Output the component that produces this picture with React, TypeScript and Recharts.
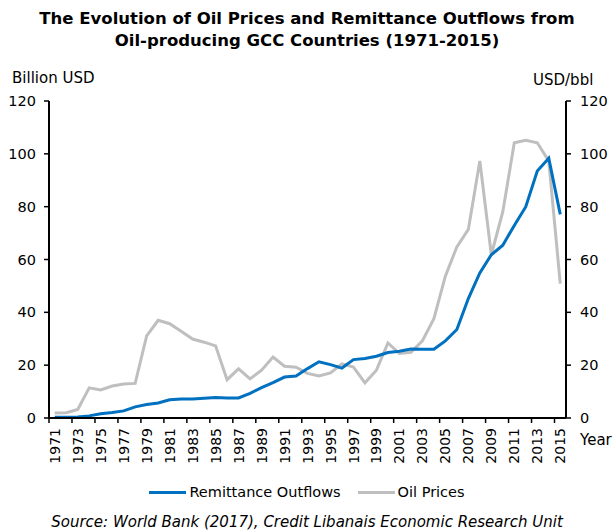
import { LineChart, Line, XAxis, YAxis } from "recharts";

const years = [
  1971, 1972, 1973, 1974, 1975, 1976, 1977, 1978, 1979, 1980,
  1981, 1982, 1983, 1984, 1985, 1986, 1987, 1988, 1989, 1990,
  1991, 1992, 1993, 1994, 1995, 1996, 1997, 1998, 1999, 2000,
  2001, 2002, 2003, 2004, 2005, 2006, 2007, 2008, 2009, 2010,
  2011, 2012, 2013, 2014, 2015,
];

// Billion USD
const remittanceOutflows = [
  0.3, 0.3, 0.4, 0.8, 1.6, 2.1, 2.7, 4.2, 5.1, 5.7,
  6.9, 7.2, 7.2, 7.5, 7.8, 7.6, 7.6, 9.3, 11.5, 13.4,
  15.5, 15.9, 18.7, 21.3, 20.2, 18.9, 22.1, 22.5, 23.4, 24.8,
  25.3, 26.1, 26.0, 26.0, 29.2, 33.5, 45.2, 54.9, 61.8, 65.4,
  72.9, 80.0, 93.5, 98.3, 77.1,
];

// USD/bbl
const oilPrices = [
  1.9, 2.0, 3.2, 11.4, 10.6, 12.1, 12.9, 13.1, 31.1, 37.0,
  35.7, 32.8, 29.9, 28.7, 27.3, 14.5, 18.6, 14.8, 18.1, 23.1,
  19.6, 19.2, 16.9, 15.9, 17.1, 20.5, 19.3, 13.3, 18.1, 28.4,
  24.4, 24.9, 29.2, 37.6, 53.7, 64.8, 71.4, 97.3, 61.8, 78.1,
  104.2, 105.1, 104.2, 97.3, 50.9,
];

const valueTicks = [0, 20, 40, 60, 80, 100, 120];
const yearLabels = years.filter((_, i) => i % 2 === 0);

const data = years.map((year, i) => ({
  year,
  remit: remittanceOutflows[i],
  oil: oilPrices[i],
}));

const W = 614;
const H = 531;
const TOP = 101;
const LEFT_W = 49;
const RIGHT_W = 48;
const X_H = 113;
const catW = (W - LEFT_W - RIGHT_W) / years.length;

const FONT = "'DejaVu Sans', Verdana, sans-serif";
const BLUE = "#0070C0";
const GREY = "#BFBFBF";

const YearTick = (props: any) => {
  const { x, y, payload } = props;
  const tx = x - catW / 2;
  return (
    <g>
      <line x1={tx} y1={y} x2={tx} y2={y + 5} stroke="#000" strokeWidth={1.5} />
      <text
        transform={`translate(${x},${y + 10}) rotate(-90)`}
        textAnchor="end"
        dy="0.36em"
        fontSize={14}
        fontFamily={FONT}
        fill="#000"
      >
        {payload.value}
      </text>
    </g>
  );
};

const abs = (style: any): any => ({ position: "absolute", fontFamily: FONT, color: "#000", whiteSpace: "nowrap", ...style });

export default function App() {
  return (
    <div style={{ position: "absolute", left: 0, top: 0, width: W, height: H, background: "#fff" }}>
      <div style={abs({ left: 0, top: 8, width: W, textAlign: "center", fontWeight: "bold", fontSize: 16.5, lineHeight: "22px" })}>
        The Evolution of Oil Prices and Remittance Outflows from
        <br />
        Oil-producing GCC Countries (1971-2015)
      </div>
      <div style={abs({ left: 12, top: 69, fontSize: 15, lineHeight: "18px" })}>Billion USD</div>
      <div style={abs({ left: 533, top: 71, fontSize: 15, lineHeight: "18px" })}>USD/bbl</div>
      <div style={abs({ left: 580, top: 431, fontSize: 15, lineHeight: "18px" })}>Year</div>

      <LineChart width={W} height={H} data={data} margin={{ top: TOP, right: 0, bottom: 0, left: 0 }}>
        <XAxis
          dataKey="year"
          type="number"
          domain={[years[0] - 0.5, years[years.length - 1] + 0.5]}
          ticks={yearLabels}
          interval={0}
          height={X_H}
          tickLine={false}
          tickSize={0}
          tickMargin={0}
          axisLine={{ stroke: "#000", strokeWidth: 2 }}
          tick={<YearTick />}
          allowDataOverflow
        />
        <YAxis
          yAxisId="left"
          domain={[0, 120]}
          ticks={valueTicks}
          width={LEFT_W}
          tickSize={5}
          tickMargin={8}
          axisLine={{ stroke: "#000", strokeWidth: 2 }}
          tickLine={{ stroke: "#000", strokeWidth: 1.5 }}
          tick={{ fill: "#000", fontSize: 14.5, fontFamily: FONT }}
        />
        <YAxis
          yAxisId="right"
          orientation="right"
          domain={[0, 120]}
          ticks={valueTicks}
          width={RIGHT_W}
          tickSize={5}
          tickMargin={9}
          axisLine={{ stroke: "#000", strokeWidth: 2 }}
          tickLine={{ stroke: "#000", strokeWidth: 1.5 }}
          tick={{ fill: "#000", fontSize: 14.5, fontFamily: FONT }}
        />
        <Line
          yAxisId="right"
          type="linear"
          dataKey="oil"
          stroke={GREY}
          strokeWidth={3}
          dot={false}
          isAnimationActive={false}
        />
        <Line
          yAxisId="left"
          type="linear"
          dataKey="remit"
          stroke={BLUE}
          strokeWidth={3}
          dot={false}
          isAnimationActive={false}
        />
      </LineChart>

      <div style={abs({ left: 0, top: 483, width: W, display: "flex", justifyContent: "center", alignItems: "center", fontSize: 14.5, lineHeight: "18px" })}>
        <span style={{ display: "inline-block", width: 37, height: 3, background: BLUE, marginRight: 3 }} />
        <span>Remittance Outflows</span>
        <span style={{ display: "inline-block", width: 37, height: 3, background: GREY, marginLeft: 17, marginRight: 3 }} />
        <span>Oil Prices</span>
      </div>
      <div style={abs({ left: 0, top: 513, width: W, textAlign: "center", fontSize: 15, fontStyle: "italic", lineHeight: "18px" })}>
        Source: World Bank (2017), Credit Libanais Economic Research Unit
      </div>
    </div>
  );
}
